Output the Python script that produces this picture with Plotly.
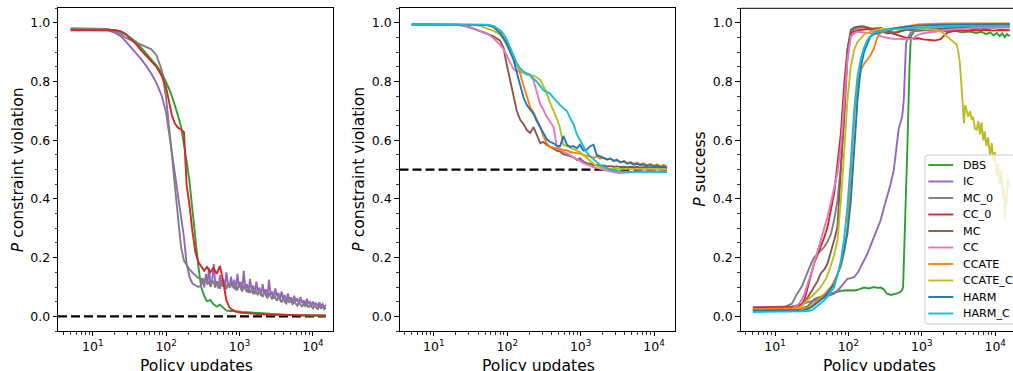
import plotly.graph_objects as go

# ---------------- data ----------------
NAMES = ["DBS", "IC", "MC_0", "CC_0", "MC", "CC", "CCATE", "CCATE_C", "HARM", "HARM_C"]
COLORS = {"DBS": "#2ca02c", "IC": "#9467bd", "MC_0": "#7f7f7f", "CC_0": "#d62728",
          "MC": "#8c564b", "CC": "#e377c2", "CCATE": "#ff7f0e", "CCATE_C": "#bcbd22",
          "HARM": "#1f77b4", "HARM_C": "#17becf"}

# Panel 1: P constraint violation
P1_X_HEAD = [5, 8, 12, 16, 20, 24, 28, 33, 39, 46, 54, 63, 74, 87, 100, 110, 120, 132, 145,
             160, 175, 190, 208, 228, 250, 275]
P1_X_TAIL = [300, 330, 360, 400, 440, 490, 540, 600, 660, 730, 800, 880, 970, 1070, 1180,
             1300, 1430, 1580, 1740, 1920, 2120, 2340, 2580, 2850, 3140, 3470, 3830, 4220,
             4660, 5140, 5670, 6260, 6900, 7620, 8400, 9270, 10230, 11290, 12450, 13600, 15000]
P1_X_DENSE = [300, 315, 331, 348, 366, 384, 404, 424, 446, 468, 492, 517, 543, 571, 600, 630,
              662, 696, 731, 768, 807, 848, 891, 936, 984, 1034, 1086, 1141, 1199, 1260, 1324,
              1391, 1462, 1536, 1614, 1696, 1782, 1872, 1967, 2067, 2172, 2282, 2398, 2519,
              2647, 2781, 2922, 3071, 3226, 3390, 3562, 3743, 3933, 4132, 4342, 4562, 4793,
              5036, 5292, 5560, 5842, 6139, 6450, 6777, 7121, 7482, 7862, 8261, 8680, 9120,
              9583, 10069, 10580, 11117, 11681, 12273, 12896, 13550, 14238, 15000]

P1_DBS = [0.978, 0.978, 0.978, 0.977, 0.975, 0.97, 0.962, 0.95, 0.935, 0.915, 0.895, 0.875,
          0.855, 0.83, 0.80, 0.775, 0.75, 0.72, 0.685, 0.645, 0.59, 0.53, 0.46, 0.36, 0.25, 0.17,
          0.10, 0.07, 0.052, 0.055, 0.042, 0.033, 0.04, 0.03, 0.02, 0.018, 0.019, 0.016, 0.017,
          0.015, 0.015, 0.013, 0.013, 0.012, 0.012, 0.011, 0.01, 0.01, 0.009, 0.008, 0.008,
          0.007, 0.006, 0.006, 0.005, 0.005, 0.004, 0.004, 0.004, 0.003, 0.003, 0.003, 0.003,
          0.002, 0.002, 0.002, 0.002]
P1_CC0 = [0.975, 0.975, 0.975, 0.975, 0.975, 0.972, 0.962, 0.945, 0.928, 0.906, 0.886, 0.868,
          0.85, 0.82, 0.78, 0.73, 0.685, 0.657, 0.643, 0.637, 0.628, 0.45, 0.38, 0.29, 0.22, 0.185,
          0.17, 0.155, 0.168, 0.15, 0.165, 0.145, 0.172, 0.12, 0.055, 0.03, 0.022, 0.017, 0.014,
          0.012, 0.011, 0.01, 0.009, 0.008, 0.007, 0.007, 0.006, 0.006, 0.005, 0.005, 0.005,
          0.004, 0.004, 0.004, 0.004, 0.003, 0.003, 0.003, 0.003, 0.003, 0.003, 0.003, 0.003,
          0.003, 0.003, 0.003, 0.003]
P1_IC = [0.977, 0.977, 0.977, 0.975, 0.967, 0.955, 0.938, 0.918, 0.898, 0.876, 0.852, 0.827,
         0.795, 0.752, 0.695, 0.625, 0.56, 0.49, 0.42, 0.35, 0.27, 0.18, 0.135, 0.112, 0.105, 0.10,
         0.105, 0.13, 0.098, 0.145, 0.112, 0.165, 0.1, 0.125, 0.178, 0.108,
         0.12, 0.095, 0.14, 0.105, 0.128, 0.092, 0.15, 0.11, 0.1, 0.135,
         0.098, 0.125, 0.088, 0.145, 0.1, 0.118, 0.085, 0.155, 0.095, 0.11,
         0.08, 0.128, 0.09, 0.105, 0.075, 0.118, 0.085, 0.098, 0.07, 0.11,
         0.078, 0.092, 0.065, 0.125, 0.072, 0.085, 0.06, 0.095, 0.068, 0.08,
         0.055, 0.085, 0.06, 0.072, 0.05, 0.078, 0.055, 0.065, 0.046, 0.07,
         0.05, 0.062, 0.042, 0.066, 0.045, 0.055, 0.038, 0.06, 0.042, 0.052,
         0.035, 0.05, 0.038, 0.046, 0.032, 0.048, 0.035, 0.042, 0.03, 0.04]
P1_MC0 = [0.982, 0.982, 0.982, 0.98, 0.972, 0.962, 0.95, 0.942, 0.934, 0.926, 0.918, 0.91,
          0.89, 0.84, 0.745, 0.65, 0.55, 0.44, 0.33, 0.235, 0.19, 0.175, 0.16, 0.15, 0.14, 0.13,
          0.128, 0.112, 0.122, 0.131, 0.108, 0.119, 0.102, 0.124, 0.113, 0.098,
          0.116, 0.104, 0.095, 0.118, 0.101, 0.11, 0.092, 0.113, 0.098, 0.107,
          0.112, 0.094, 0.103, 0.089, 0.109, 0.097, 0.085, 0.104, 0.092, 0.083,
          0.098, 0.08, 0.09, 0.076, 0.094, 0.083, 0.072, 0.088, 0.077, 0.066,
          0.082, 0.07, 0.061, 0.079, 0.065, 0.058, 0.074, 0.062, 0.053, 0.068,
          0.057, 0.047, 0.063, 0.05, 0.044, 0.058, 0.046, 0.054, 0.04, 0.05,
          0.043, 0.036, 0.048, 0.038, 0.032, 0.044, 0.035, 0.041, 0.03, 0.038,
          0.033, 0.027, 0.039, 0.029, 0.025, 0.035, 0.028, 0.032, 0.024, 0.03]

# Panel 2: P constraint violation
P2_X = [5, 10, 16, 22, 28, 35, 43, 53, 65, 80, 89, 98, 110, 122, 135, 150, 167, 185, 205, 228,
        253, 282, 310, 345, 380, 427, 473, 525, 580, 650, 720, 800, 890, 980, 1090, 1200, 1350,
        1500, 1660, 1840, 2040, 2300, 2550, 2810, 3100, 3500, 3900, 4300, 4800, 5300, 5900,
        6500, 7200, 8000, 8900, 9900, 11000, 12200, 13500, 15000]
P2_MC = [0.995, 0.995, 0.995, 0.994, 0.99, 0.98, 0.971, 0.963, 0.954, 0.94,
         0.915, 0.86, 0.80, 0.745, 0.70, 0.67, 0.655, 0.635, 0.625, 0.645,
         0.615, 0.59, 0.595, 0.584, 0.578, 0.571, 0.565, 0.562, 0.553, 0.55,
         0.545, 0.542, 0.533, 0.538, 0.527, 0.522, 0.52, 0.515, 0.516, 0.513,
         0.514, 0.511, 0.512, 0.51, 0.511, 0.509, 0.51, 0.508, 0.51, 0.508,
         0.509, 0.507, 0.509, 0.507, 0.508, 0.506, 0.508, 0.506, 0.507, 0.506]
P2_CC = [0.995, 0.995, 0.995, 0.993, 0.987, 0.978, 0.972, 0.965, 0.948, 0.925,
         0.91, 0.89, 0.862, 0.842, 0.837, 0.834, 0.83, 0.826, 0.823, 0.805,
         0.76, 0.722, 0.705, 0.68, 0.665, 0.645, 0.58, 0.568, 0.56, 0.555,
         0.548, 0.54, 0.535, 0.53, 0.522, 0.518, 0.512, 0.508, 0.505, 0.502,
         0.50, 0.497, 0.494, 0.492, 0.49, 0.488, 0.489, 0.491, 0.492, 0.493,
         0.494, 0.494, 0.495, 0.495, 0.495, 0.495, 0.495, 0.495, 0.495, 0.495]
P2_CCATE = [0.995, 0.995, 0.995, 0.995, 0.995, 0.995, 0.994, 0.993, 0.985, 0.965,
            0.95, 0.932, 0.91, 0.885, 0.855, 0.828, 0.785, 0.75, 0.714, 0.695,
            0.67, 0.645, 0.615, 0.59, 0.578, 0.575, 0.572, 0.568, 0.567, 0.566,
            0.56, 0.558, 0.556, 0.555, 0.55, 0.548, 0.545, 0.54, 0.545, 0.538,
            0.54, 0.535, 0.538, 0.53, 0.535, 0.525, 0.53, 0.522, 0.527, 0.52,
            0.524, 0.518, 0.522, 0.515, 0.52, 0.514, 0.518, 0.512, 0.516, 0.512]
P2_CCATEC = [0.995, 0.995, 0.995, 0.995, 0.995, 0.993, 0.99, 0.982, 0.973, 0.96,
             0.945, 0.925, 0.905, 0.885, 0.86, 0.84, 0.83, 0.823, 0.821, 0.82,
             0.815, 0.806, 0.785, 0.76, 0.73, 0.703, 0.675, 0.64, 0.585, 0.58,
             0.575, 0.57, 0.565, 0.56, 0.55, 0.54, 0.528, 0.52, 0.513, 0.508,
             0.505, 0.503, 0.503, 0.502, 0.502, 0.502, 0.502, 0.502, 0.502, 0.502,
             0.502, 0.502, 0.502, 0.502, 0.502, 0.502, 0.502, 0.502, 0.502, 0.502]
P2_HARM = [0.995, 0.995, 0.995, 0.995, 0.995, 0.995, 0.994, 0.993, 0.988, 0.965,
           0.948, 0.93, 0.90, 0.874, 0.83, 0.79, 0.745, 0.72, 0.703, 0.69,
           0.665, 0.645, 0.625, 0.605, 0.595, 0.59, 0.582, 0.58, 0.615, 0.585,
           0.578, 0.58, 0.573, 0.585, 0.565, 0.567, 0.58, 0.585, 0.55, 0.545,
           0.54, 0.535, 0.538, 0.53, 0.532, 0.525, 0.528, 0.52, 0.523, 0.517,
           0.52, 0.515, 0.518, 0.512, 0.516, 0.51, 0.514, 0.508, 0.512, 0.505]
P2_HARMC = [0.995, 0.995, 0.995, 0.995, 0.995, 0.995, 0.995, 0.994, 0.99, 0.975,
            0.962, 0.945, 0.915, 0.885, 0.862, 0.845, 0.834, 0.828, 0.823, 0.81,
            0.80, 0.785, 0.771, 0.765, 0.76, 0.745, 0.731, 0.72, 0.71, 0.70,
            0.675, 0.655, 0.62, 0.60, 0.575, 0.56, 0.545, 0.535, 0.525, 0.516,
            0.51, 0.503, 0.499, 0.497, 0.495, 0.494, 0.493, 0.493, 0.492, 0.492,
            0.492, 0.492, 0.492, 0.492, 0.492, 0.492, 0.492, 0.492, 0.492, 0.492]

# Panel 3: P success
P3_X = [5, 12, 17, 20, 23, 25, 28, 31, 34, 38, 42, 47, 52, 58, 64, 71, 79, 88, 97, 108,
        120, 133, 148, 163, 182, 200, 224, 247, 275, 305, 338, 375, 416, 462, 510, 556, 600,
        640, 700, 780, 900, 1050, 1250, 1500, 1800, 2200, 2700, 3300, 4000, 5000, 6200, 7600,
        9400, 11500, 15800]
P3_MC0 = [0.02, 0.026, 0.043, 0.077, 0.10, 0.123, 0.15, 0.18, 0.2, 0.214,
          0.225, 0.237, 0.255, 0.282, 0.33, 0.396, 0.51, 0.68, 0.875, 0.966,
          0.978, 0.983, 0.986, 0.985, 0.98, 0.975, 0.97, 0.968, 0.966, 0.972,
          0.965, 0.975, 0.968, 0.97, 0.972, 0.975, 0.978, 0.976, 0.974, 0.976,
          0.975, 0.978, 0.976, 0.972, 0.98, 0.984, 0.986, 0.988, 0.99, 0.99,
          0.991, 0.992, 0.992, 0.993, 0.993]
P3_CC0 = [0.03, 0.03, 0.03, 0.032, 0.04, 0.055, 0.10, 0.14, 0.18, 0.21,
          0.237, 0.27, 0.305, 0.36, 0.42, 0.52, 0.624, 0.795, 0.909, 0.966,
          0.972, 0.975, 0.977, 0.978, 0.98, 0.98, 0.982, 0.983, 0.983, 0.978,
          0.972, 0.968, 0.963, 0.96, 0.955, 0.953, 0.95, 0.948, 0.95, 0.946,
          0.948, 0.944, 0.942, 0.94, 0.945, 0.966, 0.972, 0.975, 0.974, 0.976,
          0.975, 0.977, 0.974, 0.976, 0.975]
P3_MC = [0.025, 0.025, 0.026, 0.028, 0.035, 0.045, 0.066, 0.085, 0.10, 0.12,
         0.146, 0.16, 0.18, 0.22, 0.26, 0.305, 0.487, 0.704, 0.909, 0.977,
         0.985, 0.988, 0.989, 0.988, 0.985, 0.982, 0.978, 0.975, 0.972, 0.968,
         0.965, 0.966, 0.964, 0.968, 0.972, 0.975, 0.976, 0.977, 0.977, 0.978,
         0.978, 0.979, 0.979, 0.98, 0.98, 0.981, 0.981, 0.982, 0.982, 0.983,
         0.983, 0.984, 0.984, 0.985, 0.985]
P3_CC = [0.025, 0.025, 0.027, 0.035, 0.055, 0.075, 0.11, 0.145, 0.18, 0.22,
         0.26, 0.30, 0.34, 0.39, 0.44, 0.49, 0.58, 0.74, 0.875, 0.954,
         0.965, 0.97, 0.968, 0.967, 0.966, 0.966, 0.966, 0.962, 0.955, 0.952,
         0.949, 0.947, 0.946, 0.945, 0.945, 0.946, 0.945, 0.944, 0.945, 0.95,
         0.96, 0.965, 0.968, 0.97, 0.974, 0.976, 0.978, 0.98, 0.982, 0.983,
         0.984, 0.985, 0.986, 0.986, 0.987]
P3_CCATE = [0.025, 0.025, 0.025, 0.026, 0.027, 0.028, 0.03, 0.035, 0.045, 0.055,
            0.065, 0.075, 0.088, 0.10, 0.12, 0.145, 0.17, 0.22, 0.305, 0.487,
            0.68, 0.79, 0.84, 0.86, 0.875, 0.89, 0.915, 0.95, 0.968, 0.972,
            0.976, 0.979, 0.981, 0.983, 0.985, 0.987, 0.988, 0.99, 0.992, 0.994,
            0.995, 0.996, 0.997, 0.997, 0.997, 0.998, 0.998, 0.998, 0.998, 0.998,
            0.998, 0.998, 0.998, 0.998, 0.998]
P3_HARM = [0.02, 0.02, 0.02, 0.02, 0.021, 0.022, 0.025, 0.03, 0.038, 0.048,
           0.057, 0.066, 0.08, 0.095, 0.11, 0.14, 0.18, 0.23, 0.282, 0.396,
           0.59, 0.738, 0.852, 0.90, 0.93, 0.954, 0.962, 0.967, 0.97, 0.974,
           0.977, 0.979, 0.981, 0.983, 0.985, 0.986, 0.987, 0.988, 0.989, 0.99,
           0.991, 0.992, 0.993, 0.993, 0.994, 0.994, 0.995, 0.995, 0.995, 0.995,
           0.996, 0.996, 0.996, 0.996, 0.996]
P3_HARMC = [0.015, 0.015, 0.015, 0.015, 0.016, 0.017, 0.018, 0.02, 0.026, 0.035,
            0.045, 0.055, 0.068, 0.083, 0.10, 0.14, 0.19, 0.27, 0.374, 0.533,
            0.704, 0.818, 0.88, 0.915, 0.943, 0.956, 0.966, 0.97, 0.973, 0.975,
            0.977, 0.978, 0.979, 0.98, 0.981, 0.981, 0.982, 0.982, 0.983, 0.983,
            0.984, 0.985, 0.986, 0.987, 0.988, 0.988, 0.989, 0.989, 0.99, 0.99,
            0.99, 0.99, 0.99, 0.991, 0.991]
P3_DBS_X = [5, 12, 20, 28, 35, 45, 57, 70, 79, 100, 120, 140, 163, 190, 223, 250, 275, 300,
            338, 380, 416, 460, 512, 540, 556, 600, 640, 680, 710, 800, 1000, 1300, 1700, 2200,
            2800, 3500, 4500, 5500, 6500, 7500, 8500, 9500, 10500, 11500, 12500, 13500, 14500,
            15800]
P3_DBS = [0.02, 0.02, 0.022, 0.035, 0.06, 0.07, 0.077, 0.083, 0.087, 0.089,
          0.088, 0.092, 0.098, 0.095, 0.10, 0.097, 0.098, 0.093, 0.077, 0.073,
          0.075, 0.078, 0.083, 0.09, 0.10, 0.35, 0.6, 0.85, 0.955, 0.975,
          0.977, 0.974, 0.976, 0.972, 0.974, 0.968, 0.971, 0.966, 0.97, 0.962,
          0.968, 0.958, 0.966, 0.955, 0.964, 0.952, 0.962, 0.955]
P3_IC_X = [5, 12, 17, 22, 28, 35, 42, 52, 64, 79, 88, 97, 108, 120, 135, 148, 165, 182, 200,
           224, 250, 275, 305, 338, 375, 416, 440, 462, 485, 510, 540, 569, 590, 610, 634, 700,
           800, 1000, 1300, 1700, 2200, 3000, 4000, 5500, 7500, 10000, 15800]
P3_IC = [0.03, 0.032, 0.034, 0.04, 0.049, 0.055, 0.06, 0.068, 0.077, 0.10,
         0.115, 0.128, 0.13, 0.134, 0.15, 0.169, 0.19, 0.214, 0.24, 0.27,
         0.30, 0.328, 0.37, 0.408, 0.45, 0.50, 0.56, 0.613, 0.64, 0.658,
         0.68, 0.74, 0.85, 0.93, 0.945, 0.966, 0.972, 0.975, 0.978, 0.98,
         0.982, 0.984, 0.985, 0.986, 0.987, 0.988, 0.99]
P3_CCATEC_X = [5, 12, 17, 20, 23, 25, 28, 34, 42, 50, 57, 64, 71, 79, 88, 97, 108, 120, 133,
               148, 163, 182, 224, 275, 400, 700, 1000, 1300, 1600, 1900, 2200, 2450, 2700,
               3000, 3150, 3300, 3450, 3600, 3750, 3900, 4100, 4300, 4550, 4800, 5000, 5300,
               5600, 5900, 6200, 6500, 6900, 7200, 7600, 8000, 8500, 9000, 9400, 9900, 10400,
               11000, 11500, 12100, 12800, 13200, 13500, 13900, 14300, 14700, 15800]
P3_CCATEC = [0.02, 0.02, 0.021, 0.025, 0.035, 0.045, 0.055, 0.075, 0.10, 0.13,
             0.169, 0.21, 0.26, 0.396, 0.567, 0.738, 0.852, 0.909, 0.935, 0.949,
             0.96, 0.966, 0.975, 0.98, 0.982, 0.983, 0.98, 0.978, 0.977, 0.968,
             0.954, 0.943, 0.935, 0.926, 0.90, 0.863, 0.795, 0.738, 0.658, 0.72,
             0.70, 0.68, 0.70, 0.67, 0.68, 0.64, 0.636, 0.665, 0.62, 0.66,
             0.60, 0.63, 0.58, 0.61, 0.55, 0.59, 0.53, 0.56, 0.48, 0.52,
             0.45, 0.50, 0.40, 0.44, 0.33, 0.42, 0.38, 0.47, 0.44]

THRESHOLDS = [0.0, 0.5]          # dashed reference lines in panels 1 and 2
Y_TICKS = [0.0, 0.2, 0.4, 0.6, 0.8, 1.0]
X_TICKS = [10, 100, 1000, 10000]
X_TICKTEXT = ["10<sup>1</sup>", "10<sup>2</sup>", "10<sup>3</sup>", "10<sup>4</sup>"]
Y_TITLES = ["<i>P</i> constraint violation", "<i>P</i> constraint violation", "<i>P</i> success"]
X_TITLE = "Policy updates"

PANELS = [
    [("DBS", P1_X_HEAD + P1_X_TAIL, P1_DBS), ("IC", P1_X_HEAD + P1_X_DENSE, P1_IC),
     ("MC_0", P1_X_HEAD + P1_X_DENSE, P1_MC0), ("CC_0", P1_X_HEAD + P1_X_TAIL, P1_CC0)],
    [("MC", P2_X, P2_MC), ("CC", P2_X, P2_CC), ("CCATE", P2_X, P2_CCATE),
     ("CCATE_C", P2_X, P2_CCATEC), ("HARM", P2_X, P2_HARM), ("HARM_C", P2_X, P2_HARMC)],
    [("DBS", P3_DBS_X, P3_DBS), ("IC", P3_IC_X, P3_IC), ("MC_0", P3_X, P3_MC0),
     ("CC_0", P3_X, P3_CC0), ("MC", P3_X, P3_MC), ("CC", P3_X, P3_CC),
     ("CCATE", P3_X, P3_CCATE), ("CCATE_C", P3_CCATEC_X, P3_CCATEC),
     ("HARM", P3_X, P3_HARM), ("HARM_C", P3_X, P3_HARMC)],
]

# ---------------- layout geometry ----------------
W, H = 1013, 371
FONT = "DejaVu Sans"
PXD = 73.4  # pixels per decade


def PX(px):
    return px / W


def PY(py):
    return 1 - py / H


LEFTS = [58.0, 399.5, 740.5]
AX_W = 275.0
TOP, BOT = 8.3, 331.0
X_RANGES = [(0.527, 0.527 + AX_W / PXD), (0.532, 0.532 + AX_W / PXD),
            (0.53, 0.53 + (W - 740.5) / PXD)]

fig = go.Figure()

# dashed thresholds (drawn first, below curves)
for k, thr in enumerate(THRESHOLDS):
    xmax = max(max(s[1]) for s in PANELS[k])
    fig.add_trace(go.Scatter(
        x=[10 ** X_RANGES[k][0], xmax], y=[thr, thr], mode="lines",
        line=dict(color="black", width=2.4, dash="9px,4px"),
        xaxis="x" if k == 0 else f"x{k+1}", yaxis="y" if k == 0 else f"y{k+1}",
        showlegend=False, hoverinfo="skip"))

for k, series in enumerate(PANELS):
    for name, xs, ys in series:
        fig.add_trace(go.Scatter(
            x=xs, y=ys, mode="lines", name=name,
            line=dict(color=COLORS[name], width=1.9),
            xaxis="x" if k == 0 else f"x{k+1}", yaxis="y" if k == 0 else f"y{k+1}",
            showlegend=False, hoverinfo="skip"))

minor_x = [m * 10 ** e for e in range(0, 5) for m in range(2, 10)]
tickfont = dict(family=FONT, size=12.5, color="black")

layout = dict(
    width=W, height=H, margin=dict(l=0, r=0, t=0, b=0, autoexpand=False),
    paper_bgcolor="white", plot_bgcolor="white",
    font=dict(family=FONT, color="black"),
    showlegend=False,
)
for k in range(3):
    sx = "" if k == 0 else str(k + 1)
    x0 = PX(LEFTS[k])
    x1 = min(1.0, PX(LEFTS[k] + AX_W))
    mirror = k < 2
    layout["xaxis" + sx] = dict(
        type="log", domain=[x0, x1], range=list(X_RANGES[k]), anchor="y" + sx,
        showline=True, linecolor="black", linewidth=1, mirror=mirror,
        ticks="outside", ticklen=4.4, tickwidth=1, tickcolor="black",
        tickmode="array", tickvals=X_TICKS, ticktext=X_TICKTEXT, tickfont=tickfont,
        showgrid=False, zeroline=False,
        minor=dict(ticks="outside", ticklen=2.5, tickwidth=0.8, tickcolor="black",
                   tickmode="array", tickvals=minor_x, showgrid=False))
    layout["yaxis" + sx] = dict(
        domain=[PY(BOT), PY(TOP)], range=[-0.05, 1.05], anchor="x" + sx,
        showline=True, linecolor="black", linewidth=1, mirror=mirror,
        ticks="outside", ticklen=4.4, tickwidth=1, tickcolor="black",
        tickmode="array", tickvals=Y_TICKS, ticktext=[f"{v:.1f}" for v in Y_TICKS],
        tickfont=tickfont, showgrid=False, zeroline=False,
        minor=dict(ticks="outside", ticklen=2.5, tickwidth=0.8, tickcolor="black",
                   dtick=0.05, tick0=0, showgrid=False))

shapes = []
annotations = []
# top spine of the clipped third panel
shapes.append(dict(type="line", xref="paper", yref="paper", x0=PX(LEFTS[2]), x1=PX(W + 20),
                   y0=PY(TOP), y1=PY(TOP), line=dict(color="black", width=1), layer="above"))

# axis titles
for k in range(3):
    annotations.append(dict(text=Y_TITLES[k], xref="paper", yref="paper",
                            x=PX(17.5 + LEFTS[k] - 58.0), y=PY((TOP + BOT) / 2),
                            xanchor="center", yanchor="middle", textangle=-90,
                            showarrow=False, font=dict(family=FONT, size=15.6, color="black")))
    annotations.append(dict(text=X_TITLE, xref="paper", yref="paper",
                            x=PX(LEFTS[k] + AX_W / 2 + 1), y=PY(355.0),
                            xanchor="center", yanchor="top",
                            showarrow=False, font=dict(family=FONT, size=15.6, color="black")))

# legend (panel 3), drawn as a matplotlib-style box
lx0, lx1, ly0, ly1, r = 925.0, 1045.0, 155.0, 324.0, 3.0
path = (f"M {PX(lx0 + r)},{PY(ly0)} L {PX(lx1 - r)},{PY(ly0)} "
        f"Q {PX(lx1)},{PY(ly0)} {PX(lx1)},{PY(ly0 + r)} L {PX(lx1)},{PY(ly1 - r)} "
        f"Q {PX(lx1)},{PY(ly1)} {PX(lx1 - r)},{PY(ly1)} L {PX(lx0 + r)},{PY(ly1)} "
        f"Q {PX(lx0)},{PY(ly1)} {PX(lx0)},{PY(ly1 - r)} L {PX(lx0)},{PY(ly0 + r)} "
        f"Q {PX(lx0)},{PY(ly0)} {PX(lx0 + r)},{PY(ly0)} Z")
shapes.append(dict(type="path", xref="paper", yref="paper", path=path,
                   fillcolor="rgba(255,255,255,0.8)", line=dict(color="#cccccc", width=1),
                   layer="above"))
for i, name in enumerate(NAMES):
    yc = 165.0 + 16.5 * i
    shapes.append(dict(type="line", xref="paper", yref="paper", x0=PX(928.3), x1=PX(953.3),
                       y0=PY(yc), y1=PY(yc), line=dict(color=COLORS[name], width=1.9),
                       layer="above"))
    annotations.append(dict(text=name, xref="paper", yref="paper", x=PX(961.0), y=PY(yc),
                            xanchor="left", yanchor="middle", showarrow=False,
                            font=dict(family=FONT, size=11.2, color="black")))

layout["shapes"] = shapes
layout["annotations"] = annotations
fig.update_layout(**layout)
fig.write_html("out.html", config={"displayModeBar": False, "staticPlot": True},
               post_script="document.body.style.margin='0';document.body.style.overflow='hidden';")
